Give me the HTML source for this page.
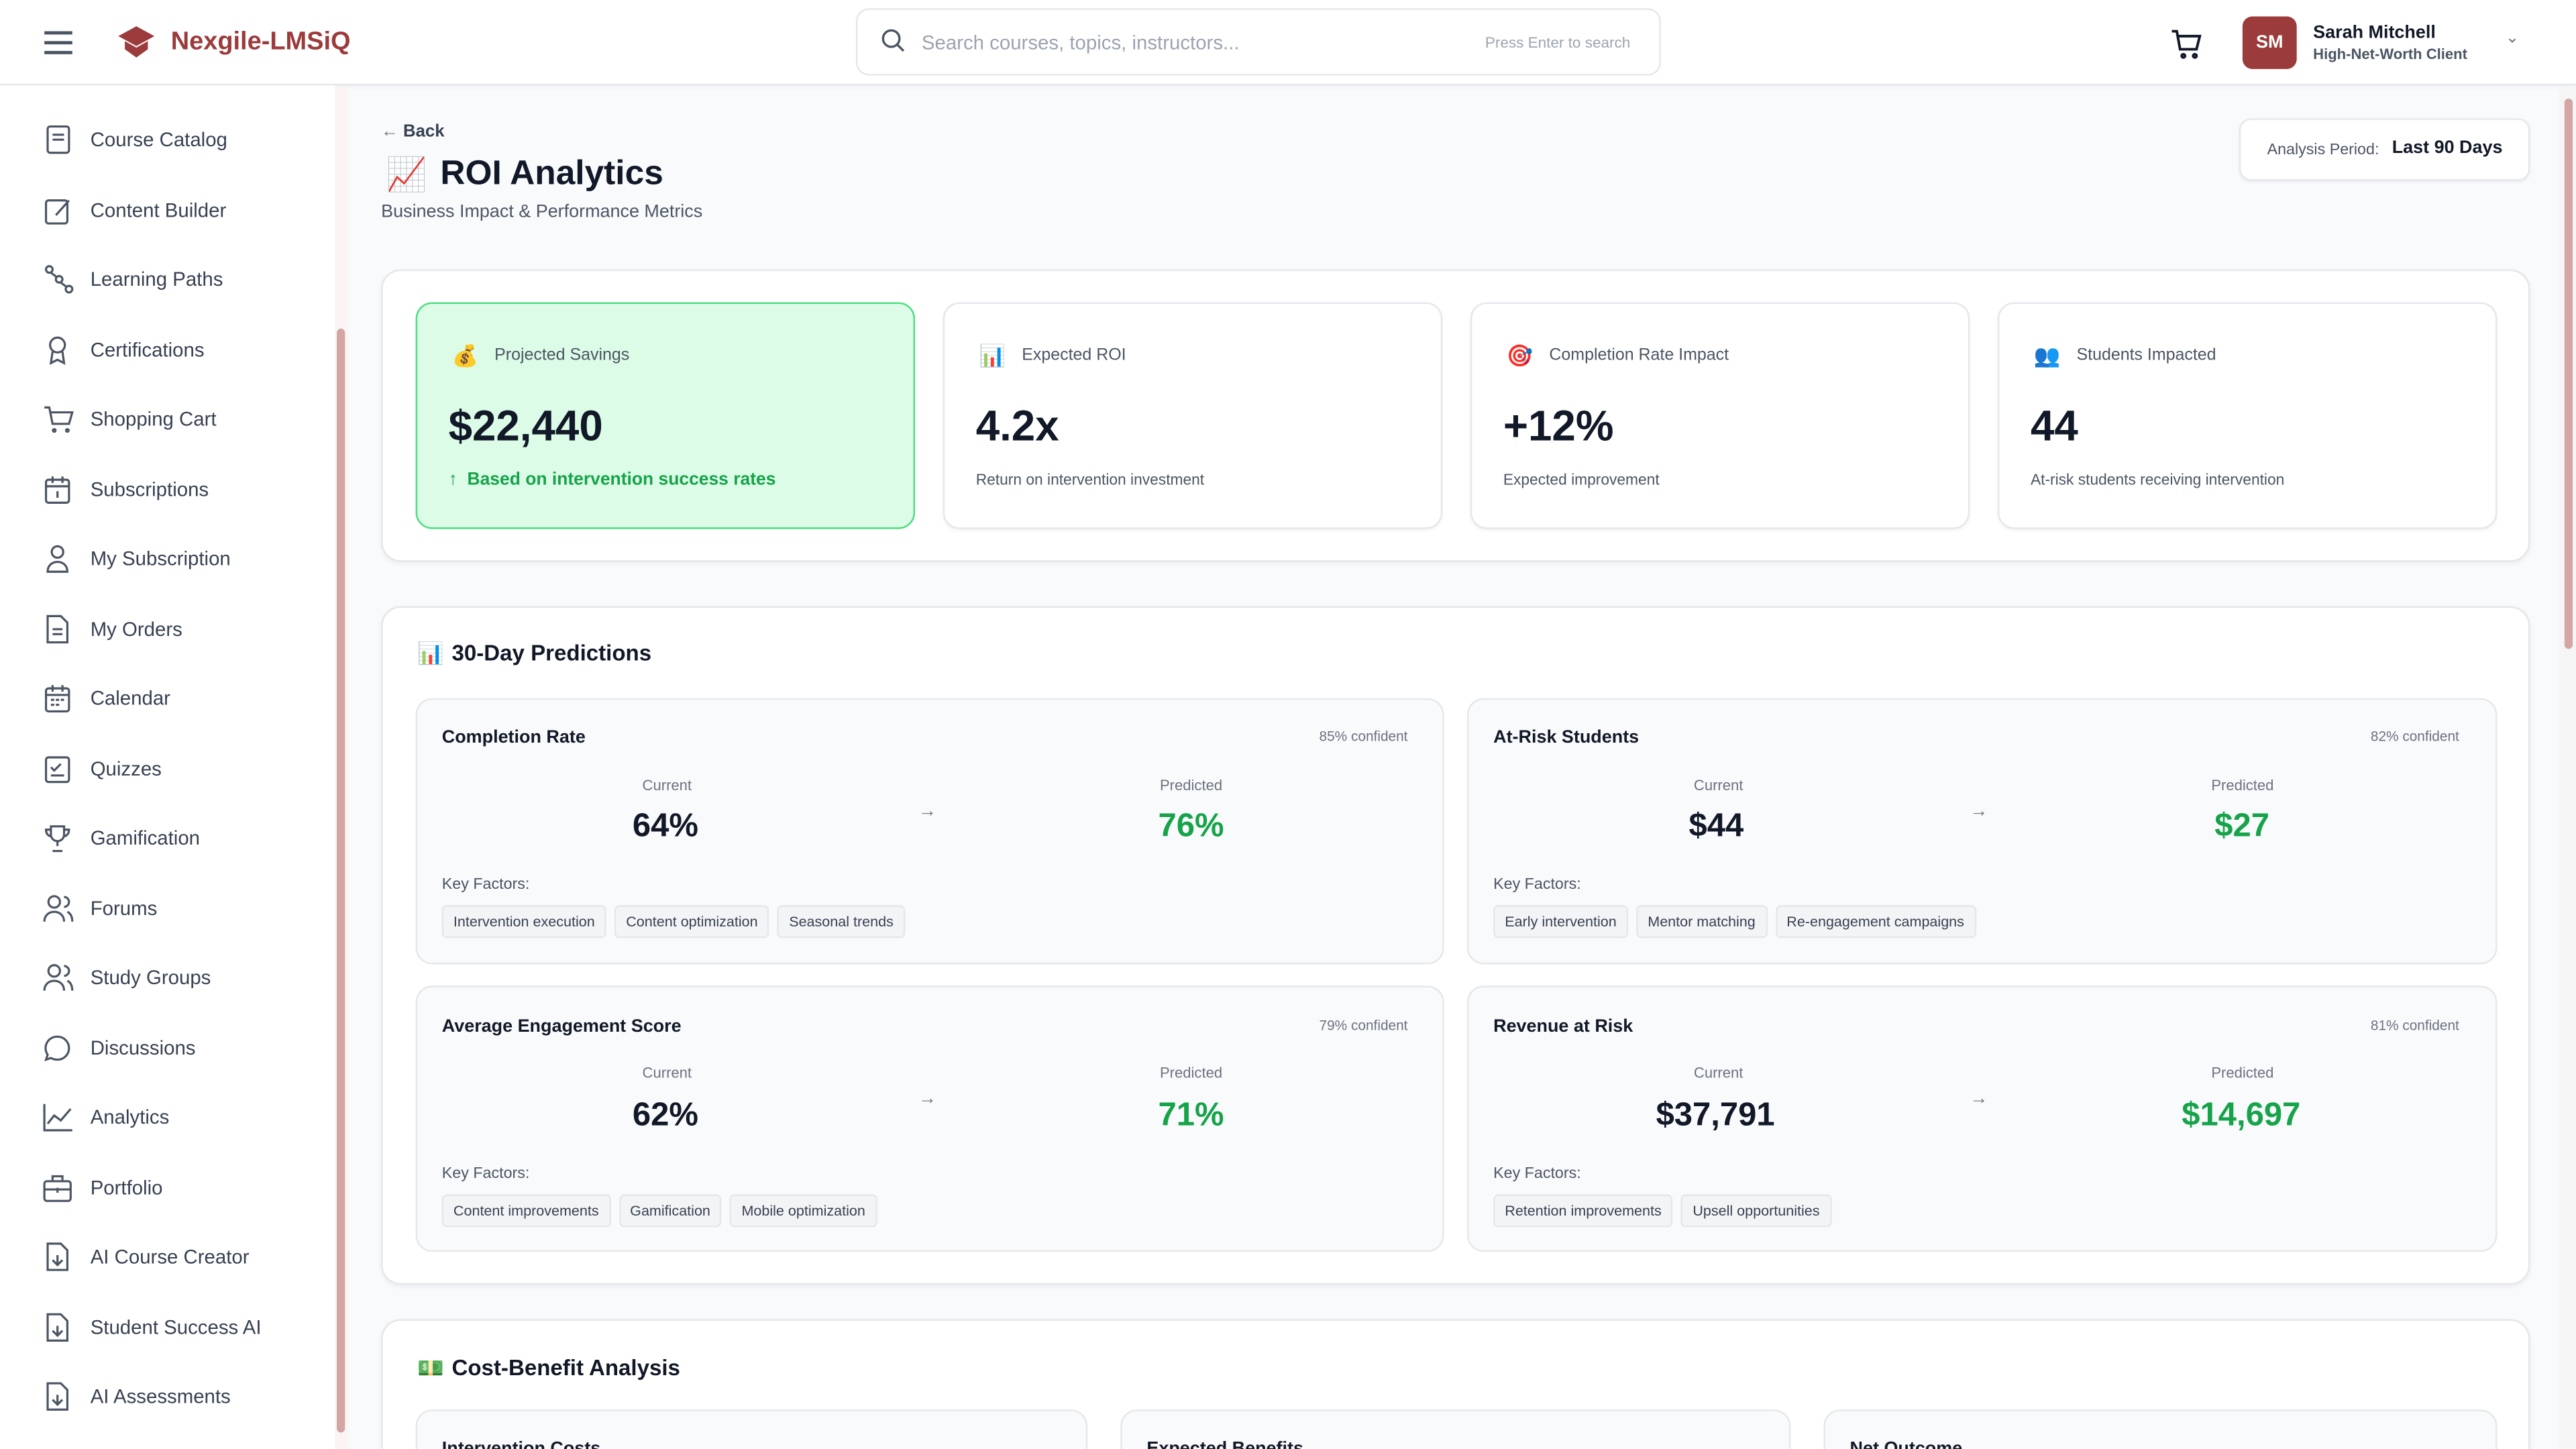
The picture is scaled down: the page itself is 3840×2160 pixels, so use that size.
<!DOCTYPE html>
<html><head><meta charset="utf-8">
<style>
*{box-sizing:border-box;margin:0;padding:0}
html,body{width:3840px;height:2160px;overflow:hidden;background:#f8fafc}
#w{position:absolute;left:0;top:0;width:1568px;height:882px;transform:scale(2.44898);transform-origin:0 0;font-family:"Liberation Sans",sans-serif;color:#111827;background:#f8fafc;overflow:hidden}
.a{position:absolute;white-space:nowrap}
.hdr{left:0;top:0;width:1568px;height:52px;background:#fff;border-bottom:1px solid #e5e7eb;box-shadow:0 1px 3px rgba(0,0,0,.05)}
.side{left:0;top:52px;width:204px;height:830px;background:#fff}
.nav{left:55px;font-size:12px;color:#374151}
.card{background:#fff;border:1px solid #e5e7eb;border-radius:12px;box-shadow:0 1px 3px rgba(0,0,0,.06)}
.sm{background:#fff;border:1px solid #e5e7eb;border-radius:10px;box-shadow:0 1px 2px rgba(0,0,0,.05)}
.pc{background:#f9fafb;border:1px solid #e5e7eb;border-radius:10px}
.tag{display:inline-block;font-size:8.8px;color:#374151;background:#f3f4f6;border:1px solid #e5e7eb;border-radius:3px;padding:4px 6px;margin-right:5px}
</style></head><body><div id="w">
<div class="a hdr"></div>
<div class="a" style="left:27px;top:19px;width:17px;height:2px;background:#4b5563;box-shadow:0 6px 0 #4b5563,0 12px 0 #4b5563"></div>
<svg class="a" style="left:71px;top:15px" width="24" height="22" viewBox="0 0 24 22"><path d="M12 1 L23 7 L12 13 L1 7Z" fill="#9b3b3b"/><path d="M5 10 V15 L12 20 L19 15 V10 L12 14Z" fill="#9b3b3b"/></svg>
<div class="a" style="left:104px;top:17px;font-size:15.5px;font-weight:bold;color:#9b3b3b">Nexgile-LMSiQ</div>
<div class="a" style="left:521px;top:5px;width:490px;height:41px;border:1px solid #e5e7eb;border-radius:8px;background:#fff"></div>
<svg class="a" style="left:536px;top:17px" width="15" height="15" viewBox="0 0 15 15"><circle cx="6.5" cy="6.5" r="5" fill="none" stroke="#4b5563" stroke-width="1.4"/><path d="M10 10 L14 14" stroke="#4b5563" stroke-width="1.4"/></svg>
<div class="a" style="left:561px;top:19px;font-size:12px;color:#9ca3af">Search courses, topics, instructors...</div>
<div class="a" style="left:904px;top:21px;font-size:9.2px;color:#9ca3af">Press Enter to search</div>
<svg class="a" style="left:1321px;top:17px" width="20" height="20" viewBox="0 0 20 20" fill="none" stroke="#111827" stroke-width="1.6"><path d="M1 2h3l2 11h10l2-8H5"/><circle cx="8" cy="17" r="1"/><circle cx="15" cy="17" r="1"/></svg>
<div class="a" style="left:1365px;top:10px;width:33px;height:32px;background:#9b3b3b;border-radius:6px;color:#fff;font-size:11px;font-weight:bold;text-align:center;line-height:32px">SM</div>
<div class="a" style="left:1408px;top:14px;font-size:11px;font-weight:bold">Sarah Mitchell</div>
<div class="a" style="left:1408px;top:28px;font-size:9px;color:#4b5563;font-weight:bold">High-Net-Worth Client</div>
<div class="a" style="left:1525px;top:18px;font-size:10px;color:#6b7280">⌄</div>

<div class="a side"></div>
<div class="a" style="left:204px;top:53px;width:8px;height:829px;background:#fbf4f4"></div>
<div class="a" style="left:205px;top:200px;width:5px;height:672px;background:#d4a5a5;border-radius:3px"></div>
<div class="a" style="left:1558px;top:53px;width:10px;height:829px;background:#f5f5f5"></div>
<div class="a" style="left:1561px;top:60px;width:5px;height:335px;background:#d4a5a5;border-radius:3px"></div>

<div class="a nav" style="top:78px">Course Catalog</div>
<div class="a nav" style="top:121px">Content Builder</div>
<div class="a nav" style="top:163px">Learning Paths</div>
<div class="a nav" style="top:206px">Certifications</div>
<div class="a nav" style="top:248px">Shopping Cart</div>
<div class="a nav" style="top:291px">Subscriptions</div>
<div class="a nav" style="top:333px">My Subscription</div>
<div class="a nav" style="top:376px">My Orders</div>
<div class="a nav" style="top:418px">Calendar</div>
<div class="a nav" style="top:461px">Quizzes</div>
<div class="a nav" style="top:503px">Gamification</div>
<div class="a nav" style="top:546px">Forums</div>
<div class="a nav" style="top:588px">Study Groups</div>
<div class="a nav" style="top:631px">Discussions</div>
<div class="a nav" style="top:673px">Analytics</div>
<div class="a nav" style="top:716px">Portfolio</div>
<div class="a nav" style="top:758px">AI Course Creator</div>
<div class="a nav" style="top:801px">Student Success AI</div>
<div class="a nav" style="top:843px">AI Assessments</div>
<svg class="a" style="left:26px;top:76px" width="20" height="790" fill="none" stroke="#4b5563" stroke-width="1.3">
<rect x="3" y="1" width="13" height="16" rx="1.5"/><path d="M6 6h7M6 9h7"/>
<g transform="translate(0,43)"><rect x="2" y="3" width="13" height="14" rx="1.5"/><path d="M8 12l8-9"/></g>
<g transform="translate(0,85)"><circle cx="4" cy="3" r="2"/><circle cx="10" cy="9" r="2"/><circle cx="16" cy="15" r="2"/><path d="M5 5l4 3M11 11l4 3"/></g>
<g transform="translate(0,128)"><circle cx="9" cy="6" r="4.5"/><path d="M6 10l-1 7 4-2 4 2-1-7"/></g>
<g transform="translate(0,170)"><path d="M1 2h3l2 10h10l2-7H5"/><circle cx="7" cy="16" r=".8"/><circle cx="15" cy="16" r=".8"/></g>
<g transform="translate(0,213)"><rect x="2" y="3" width="14" height="14" rx="1.5"/><path d="M2 7h14M6 1v4M12 1v4M9 10v4"/></g>
<g transform="translate(0,255)"><circle cx="9" cy="5" r="3.5"/><path d="M3 17c0-4 3-6 6-6s6 2 6 6z"/></g>
<g transform="translate(0,298)"><path d="M3 1h8l4 4v12H3z"/><path d="M6 9h6M6 12h6"/></g>
<g transform="translate(0,340)"><rect x="2" y="3" width="14" height="14" rx="1.5"/><path d="M2 7h14M6 1v4M12 1v4M5 10h2M8 10h2M11 10h2M5 13h2M8 13h2"/></g>
<g transform="translate(0,383)"><rect x="2" y="2" width="14" height="15" rx="1.5"/><path d="M5 8l2 2 4-4M5 13h8"/></g>
<g transform="translate(0,425)"><path d="M5 2h8v5a4 4 0 01-8 0zM5 4H2c0 3 2 4 3 4M13 4h3c0 3-2 4-3 4M9 11v3M6 17h6"/></g>
<g transform="translate(0,468)"><circle cx="7" cy="5" r="3.5"/><path d="M1 17c0-4 3-6 6-6s6 2 6 6M13 2a3 3 0 010 6M15 11c2 1 3 3 3 6"/></g>
<g transform="translate(0,510)"><circle cx="7" cy="5" r="3.5"/><path d="M1 17c0-4 3-6 6-6s6 2 6 6M13 2a3 3 0 010 6M15 11c2 1 3 3 3 6"/></g>
<g transform="translate(0,553)"><path d="M9 2a7 7 0 110 14c-1.5 0-3-.5-4-1l-3 1 1-3a7 7 0 016-11z"/></g>
<g transform="translate(0,595)"><path d="M1 1v16h17M3 13l4-5 4 3 6-7"/></g>
<g transform="translate(0,638)"><rect x="1" y="5" width="16" height="12" rx="1.5"/><path d="M6 5V2h6v3M1 10h16M9 9v3"/></g>
<g transform="translate(0,680)"><path d="M3 1h8l4 4v12H3z"/><path d="M9 8v6M6 11l3 3 3-3"/></g>
<g transform="translate(0,723)"><path d="M3 1h8l4 4v12H3z"/><path d="M9 8v6M6 11l3 3 3-3"/></g>
<g transform="translate(0,765)"><path d="M3 1h8l4 4v12H3z"/><path d="M9 8v6M6 11l3 3 3-3"/></g>
</svg>

<div class="a" style="left:232px;top:74px;font-size:10.5px;color:#374151"><span style="color:#6b7280">←</span> <b>Back</b></div>
<div class="a" style="left:235px;top:94px;font-size:20px">📈</div>
<div class="a" style="left:268px;top:94px;font-size:21px;font-weight:bold">ROI Analytics</div>
<div class="a" style="left:232px;top:123px;font-size:11px;color:#4b5563">Business Impact &amp; Performance Metrics</div>
<div class="a sm" style="left:1363px;top:72px;width:177px;height:38px;border-radius:7px"></div>
<div class="a" style="left:1380px;top:86px;font-size:9.5px;color:#4b5563">Analysis Period:</div>
<div class="a" style="left:1456px;top:84px;font-size:11px;font-weight:bold">Last 90 Days</div>

<div class="a card" style="left:232px;top:164px;width:1308px;height:178px"></div>
<div class="a" style="left:253px;top:184px;width:304px;height:138px;background:#dcfce7;border:1px solid #4ade80;border-radius:10px"></div>
<div class="a sm" style="left:574px;top:184px;width:304px;height:138px"></div>
<div class="a sm" style="left:895px;top:184px;width:304px;height:138px"></div>
<div class="a sm" style="left:1216px;top:184px;width:304px;height:138px"></div>
<div class="a" style="left:275px;top:209px;font-size:13px">💰</div>
<div class="a" style="left:301px;top:211px;font-size:10.2px;color:#4b5563">Projected Savings</div>
<div class="a" style="left:273px;top:244px;font-size:26px;font-weight:bold">$22,440</div>
<div class="a" style="left:273px;top:286px;font-size:10.8px;font-weight:bold;color:#16a34a">↑&nbsp; Based on intervention success rates</div>
<div class="a" style="left:596px;top:209px;font-size:13px">📊</div>
<div class="a" style="left:622px;top:211px;font-size:10.2px;color:#4b5563">Expected ROI</div>
<div class="a" style="left:594px;top:244px;font-size:26px;font-weight:bold">4.2x</div>
<div class="a" style="left:594px;top:287px;font-size:9.3px;color:#4b5563">Return on intervention investment</div>
<div class="a" style="left:917px;top:209px;font-size:13px">🎯</div>
<div class="a" style="left:943px;top:211px;font-size:10.2px;color:#4b5563">Completion Rate Impact</div>
<div class="a" style="left:915px;top:244px;font-size:26px;font-weight:bold">+12%</div>
<div class="a" style="left:915px;top:287px;font-size:9.3px;color:#4b5563">Expected improvement</div>
<div class="a" style="left:1238px;top:209px;font-size:13px">👥</div>
<div class="a" style="left:1264px;top:211px;font-size:10.2px;color:#4b5563">Students Impacted</div>
<div class="a" style="left:1236px;top:244px;font-size:26px;font-weight:bold">44</div>
<div class="a" style="left:1236px;top:287px;font-size:9.3px;color:#4b5563">At-risk students receiving intervention</div>

<div class="a card" style="left:232px;top:369px;width:1308px;height:413px"></div>
<div class="a" style="left:254px;top:390px;font-size:13px">📊</div>
<div class="a" style="left:275px;top:390px;font-size:13.5px;font-weight:bold">30-Day Predictions</div>

<div class="a pc" style="left:253px;top:425px;width:626px;height:162px"></div>
<div class="a pc" style="left:893px;top:425px;width:627px;height:162px"></div>
<div class="a pc" style="left:253px;top:600px;width:626px;height:162px"></div>
<div class="a pc" style="left:893px;top:600px;width:627px;height:162px"></div>

<div class="a" style="left:269px;top:443px;font-size:11px;font-weight:bold">Completion Rate</div>
<div class="a" style="left:803px;top:443px;font-size:8.5px;color:#6b7280">85% confident</div>
<div class="a" style="left:391px;top:473px;font-size:9px;color:#6b7280">Current</div>
<div class="a" style="left:385px;top:492px;font-size:20px;font-weight:bold;color:#111827">64%</div>
<div class="a" style="left:559px;top:488px;font-size:11px;color:#6b7280">→</div>
<div class="a" style="left:706px;top:473px;font-size:9px;color:#6b7280">Predicted</div>
<div class="a" style="left:705px;top:492px;font-size:20px;font-weight:bold;color:#16a34a">76%</div>
<div class="a" style="left:269px;top:533px;font-size:9.5px;color:#4b5563">Key Factors:</div>
<div class="a" style="left:269px;top:551px"><span class="tag">Intervention execution</span><span class="tag">Content optimization</span><span class="tag">Seasonal trends</span></div>

<div class="a" style="left:909px;top:443px;font-size:11px;font-weight:bold">At-Risk Students</div>
<div class="a" style="left:1443px;top:443px;font-size:8.5px;color:#6b7280">82% confident</div>
<div class="a" style="left:1031px;top:473px;font-size:9px;color:#6b7280">Current</div>
<div class="a" style="left:1028px;top:492px;font-size:20px;font-weight:bold">$44</div>
<div class="a" style="left:1199px;top:488px;font-size:11px;color:#6b7280">→</div>
<div class="a" style="left:1346px;top:473px;font-size:9px;color:#6b7280">Predicted</div>
<div class="a" style="left:1348px;top:492px;font-size:20px;font-weight:bold;color:#16a34a">$27</div>
<div class="a" style="left:909px;top:533px;font-size:9.5px;color:#4b5563">Key Factors:</div>
<div class="a" style="left:909px;top:551px"><span class="tag">Early intervention</span><span class="tag">Mentor matching</span><span class="tag">Re-engagement campaigns</span></div>

<div class="a" style="left:269px;top:619px;font-size:11px;font-weight:bold">Average Engagement Score</div>
<div class="a" style="left:803px;top:619px;font-size:8.5px;color:#6b7280">79% confident</div>
<div class="a" style="left:391px;top:648px;font-size:9px;color:#6b7280">Current</div>
<div class="a" style="left:385px;top:668px;font-size:20px;font-weight:bold">62%</div>
<div class="a" style="left:559px;top:663px;font-size:11px;color:#6b7280">→</div>
<div class="a" style="left:706px;top:648px;font-size:9px;color:#6b7280">Predicted</div>
<div class="a" style="left:705px;top:668px;font-size:20px;font-weight:bold;color:#16a34a">71%</div>
<div class="a" style="left:269px;top:709px;font-size:9.5px;color:#4b5563">Key Factors:</div>
<div class="a" style="left:269px;top:727px"><span class="tag">Content improvements</span><span class="tag">Gamification</span><span class="tag">Mobile optimization</span></div>

<div class="a" style="left:909px;top:619px;font-size:11px;font-weight:bold">Revenue at Risk</div>
<div class="a" style="left:1443px;top:619px;font-size:8.5px;color:#6b7280">81% confident</div>
<div class="a" style="left:1031px;top:648px;font-size:9px;color:#6b7280">Current</div>
<div class="a" style="left:1008px;top:668px;font-size:20px;font-weight:bold">$37,791</div>
<div class="a" style="left:1199px;top:663px;font-size:11px;color:#6b7280">→</div>
<div class="a" style="left:1346px;top:648px;font-size:9px;color:#6b7280">Predicted</div>
<div class="a" style="left:1328px;top:668px;font-size:20px;font-weight:bold;color:#16a34a">$14,697</div>
<div class="a" style="left:909px;top:709px;font-size:9.5px;color:#4b5563">Key Factors:</div>
<div class="a" style="left:909px;top:727px"><span class="tag">Retention improvements</span><span class="tag">Upsell opportunities</span></div>

<div class="a card" style="left:232px;top:803px;width:1308px;height:90px"></div>
<div class="a" style="left:254px;top:825px;font-size:13px">💵</div>
<div class="a" style="left:275px;top:825px;font-size:13.5px;font-weight:bold">Cost-Benefit Analysis</div>
<div class="a pc" style="left:253px;top:858px;width:409px;height:40px"></div>
<div class="a pc" style="left:682px;top:858px;width:408px;height:40px"></div>
<div class="a pc" style="left:1110px;top:858px;width:410px;height:40px"></div>
<div class="a" style="left:269px;top:876px;font-size:11px;font-weight:bold">Intervention Costs</div>
<div class="a" style="left:698px;top:876px;font-size:11px;font-weight:bold">Expected Benefits</div>
<div class="a" style="left:1126px;top:876px;font-size:11px;font-weight:bold">Net Outcome</div>
</div></body></html>
